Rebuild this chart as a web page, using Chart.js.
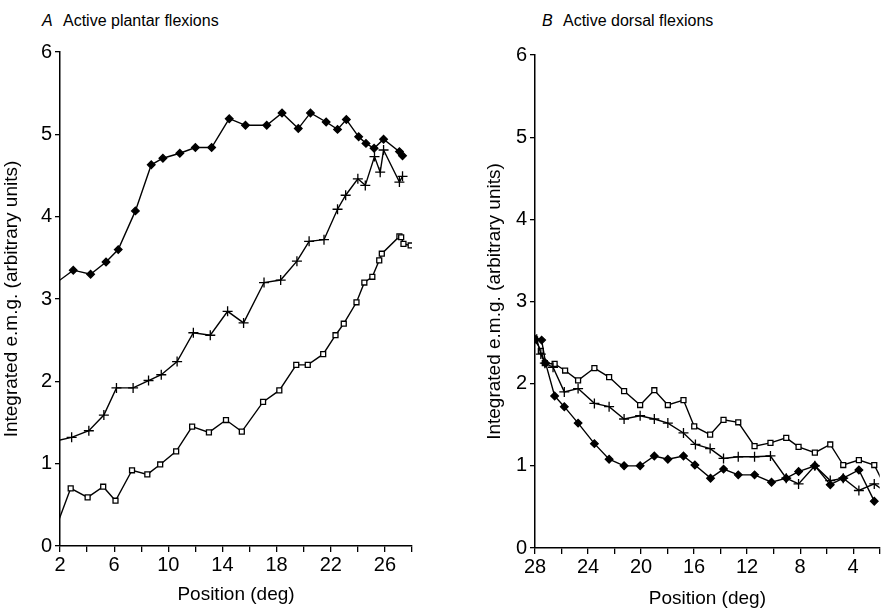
<!DOCTYPE html>
<html>
<head>
<meta charset="utf-8">
<script src="https://cdn.jsdelivr.net/npm/chart.js@4"></script>
<style>
	body { margin: 0; background: #fff; width: 886px; height: 608px; overflow: hidden; position: relative; font-family: 'Liberation Sans', Arial, Helvetica, sans-serif; }
	canvas { position: absolute; top: 0; }
	.panel-title { position: absolute; font-size: 16px; color: #000; white-space: nowrap; }
	.panel-title i { display: inline-block; width: 21px; }
</style>
</head>
<body>
<div class="panel-title" style="left:42px; top:12px;"><i>A</i>Active plantar flexions</div>
<div class="panel-title" style="left:542px; top:12px;"><i>B</i>Active dorsal flexions</div>
<canvas id="plantar" width="440" height="608" style="left:0px;"></canvas>
<canvas id="dorsal" width="446" height="608" style="left:440px;"></canvas>
<script>
/// Data (position in deg, integrated e.m.g. in arbitrary units)

// A - active plantar flexions
var plantar_diamond_x = [1.5, 2.98, 4.26, 5.4, 6.3, 7.57, 8.74, 9.6, 10.85, 12.0, 13.2, 14.5, 15.7, 17.27, 18.4, 19.6, 20.5, 21.66, 22.5, 23.15, 24.06, 24.6, 25.2, 25.9, 27.07, 27.3];
var plantar_diamond_y = [3.17, 3.35, 3.30, 3.45, 3.60, 4.07, 4.63, 4.71, 4.77, 4.84, 4.84, 5.19, 5.11, 5.11, 5.26, 5.07, 5.26, 5.15, 5.06, 5.18, 4.97, 4.89, 4.83, 4.94, 4.79, 4.74];

var plantar_plus_x = [1.5, 2.86, 4.13, 5.24, 6.17, 7.4, 8.54, 9.48, 10.65, 11.85, 13.1, 14.38, 15.56, 17.07, 18.3, 19.5, 20.4, 21.5, 22.5, 23.1, 24.0, 24.55, 25.23, 25.65, 25.9, 27.07, 27.3];
var plantar_plus_y = [1.27, 1.32, 1.40, 1.59, 1.92, 1.92, 2.01, 2.08, 2.24, 2.59, 2.56, 2.85, 2.71, 3.20, 3.23, 3.46, 3.70, 3.72, 4.09, 4.26, 4.46, 4.38, 4.73, 4.54, 4.81, 4.42, 4.49];

var plantar_square_x = [1.7, 2.79, 4.04, 5.19, 6.1, 7.32, 8.45, 9.4, 10.58, 11.76, 13.0, 14.26, 15.43, 17.0, 18.2, 19.45, 20.3, 21.44, 22.35, 22.96, 23.9, 24.48, 25.07, 25.58, 25.77, 27.07, 27.2, 27.37, 27.9];
var plantar_square_y = [0.22, 0.70, 0.59, 0.72, 0.55, 0.92, 0.87, 0.99, 1.15, 1.45, 1.38, 1.53, 1.39, 1.75, 1.89, 2.20, 2.20, 2.33, 2.56, 2.70, 2.96, 3.20, 3.27, 3.47, 3.55, 3.76, 3.75, 3.67, 3.65];

// B - active dorsal flexions
var dorsal_diamond_x = [28, 27.5, 27.2, 26.52, 25.79, 24.75, 23.52, 22.41, 21.28, 20.07, 19.0, 17.98, 16.8, 15.94, 14.76, 13.78, 12.67, 11.44, 10.16, 9.05, 8.12, 6.89, 5.73, 4.75, 3.57, 2.41];
var dorsal_diamond_y = [2.54, 2.53, 2.25, 1.85, 1.72, 1.52, 1.27, 1.08, 1.00, 1.00, 1.12, 1.08, 1.12, 1.01, 0.85, 0.96, 0.89, 0.89, 0.80, 0.85, 0.93, 1.00, 0.77, 0.85, 0.95, 0.57];

var dorsal_plus_x = [27.87, 27.56, 27.26, 26.64, 25.79, 24.75, 23.52, 22.41, 21.28, 20.07, 19.0, 17.98, 16.8, 15.9, 14.79, 13.78, 12.67, 11.44, 10.24, 9.05, 8.12, 6.89, 5.73, 4.75, 3.57, 2.41, 1.5];
var dorsal_plus_y = [2.54, 2.36, 2.25, 2.20, 1.90, 1.94, 1.76, 1.72, 1.57, 1.61, 1.57, 1.52, 1.40, 1.26, 1.21, 1.09, 1.11, 1.11, 1.12, 0.85, 0.78, 1.00, 0.82, 0.85, 0.70, 0.78, 0.68];

var dorsal_square_x = [28, 27.56, 27.26, 26.52, 25.73, 24.75, 23.52, 22.41, 21.28, 20.07, 19.0, 17.98, 16.8, 15.99, 14.79, 13.78, 12.67, 11.44, 10.24, 9.05, 8.12, 6.89, 5.73, 4.75, 3.57, 2.41, 1.5];
var dorsal_square_y = [2.54, 2.40, 2.25, 2.24, 2.16, 2.04, 2.19, 2.08, 1.91, 1.74, 1.92, 1.74, 1.80, 1.48, 1.38, 1.56, 1.53, 1.24, 1.28, 1.34, 1.23, 1.16, 1.26, 1.01, 1.07, 1.01, 0.72];

// Tick labels
var plantar_xlabels = [2, 6, 10, 14, 18, 22, 26];
var dorsal_xlabels = [28, 24, 20, 16, 12, 8, 4];
var y_labels = [0, 1, 2, 3, 4, 5, 6];

var FONT = "'Liberation Sans', Arial, Helvetica, sans-serif";

function to_points(xs, ys) {
	var pts = [];
	for (var i = 0; i < xs.length; i++) { pts.push({ x: xs[i], y: ys[i] }); }
	return pts;
}

function make_dataset(xs, ys, style) {
	var ds = {
		data: to_points(xs, ys),
		showLine: true,
		borderColor: '#000',
		borderWidth: 1.4,
		pointBorderColor: '#000',
		pointBorderWidth: 1.3,
		pointHoverRadius: 0
	};
	if (style == 'diamond') {
		ds.pointStyle = 'rectRot'; ds.pointRadius = 3.8; ds.pointBackgroundColor = '#000';
	} else if (style == 'plus') {
		ds.pointStyle = 'cross'; ds.pointRadius = 5; ds.pointBackgroundColor = '#000';
	} else {
		ds.pointStyle = 'rect'; ds.pointRadius = 3.5; ds.pointBackgroundColor = '#fff';
	}
	return ds;
}

// Build one panel
function generate_panel(canvas_id, datasets, xlabels, reverse, pad, yWidth, xHeight, xTitlePad) {
	var axisGrid = { drawOnChartArea: false, drawTicks: true, color: '#000', lineWidth: 1.3 };
	var cfg = {
		type: 'scatter',
		data: { datasets: datasets },
		options: {
			responsive: false,
			animation: false,
			events: [],
			layout: { padding: pad },
			plugins: { legend: { display: false }, tooltip: { enabled: false } },
			scales: {
				x: {
					type: 'linear', min: 2, max: 28, reverse: reverse,
					grid: Object.assign({ tickLength: 6 }, axisGrid),
					border: { display: true, color: '#000', width: 1.5 },
					ticks: {
						stepSize: 2, autoSkip: false, maxRotation: 0, padding: 1, color: '#000',
						font: { family: FONT, size: 20 },
						callback: function(v) { return xlabels.indexOf(Math.round(v)) >= 0 ? Math.round(v) : ''; }
					},
					title: { display: true, text: 'Position (deg)', color: '#000',
					         font: { family: FONT, size: 19 }, padding: { top: 0, bottom: xTitlePad } },
					afterFit: function(s) { s.height = xHeight; }
				},
				y: {
					type: 'linear', min: 0, max: 6,
					grid: Object.assign({ tickLength: 5 }, axisGrid),
					border: { display: true, color: '#000', width: 1.5 },
					ticks: {
						stepSize: 1, padding: 3, color: '#000',
						font: { family: FONT, size: 20 },
						callback: function(v) { return y_labels.indexOf(v) >= 0 ? v : ''; }
					},
					title: { display: true, text: 'Integrated e.m.g. (arbitrary units)', color: '#000',
					         font: { family: FONT, size: 19 }, padding: { top: 0, bottom: 0 } },
					afterFit: function(s) { s.width = yWidth; }
				}
			}
		}
	};
	new Chart(document.getElementById(canvas_id), cfg);
} // generate_panel

generate_panel('plantar', [
		make_dataset(plantar_diamond_x, plantar_diamond_y, 'diamond'),
		make_dataset(plantar_plus_x, plantar_plus_y, 'plus'),
		make_dataset(plantar_square_x, plantar_square_y, 'square')
	], plantar_xlabels, false, { left: 0, right: 28, top: 52, bottom: 0 }, 60, 62, 2);

generate_panel('dorsal', [
		make_dataset(dorsal_diamond_x, dorsal_diamond_y, 'diamond'),
		make_dataset(dorsal_plus_x, dorsal_plus_y, 'plus'),
		make_dataset(dorsal_square_x, dorsal_square_y, 'square')
	], dorsal_xlabels, true, { left: 43, right: 1, top: 55, bottom: 0 }, 52, 60, -2);
</script>
</body>
</html>
